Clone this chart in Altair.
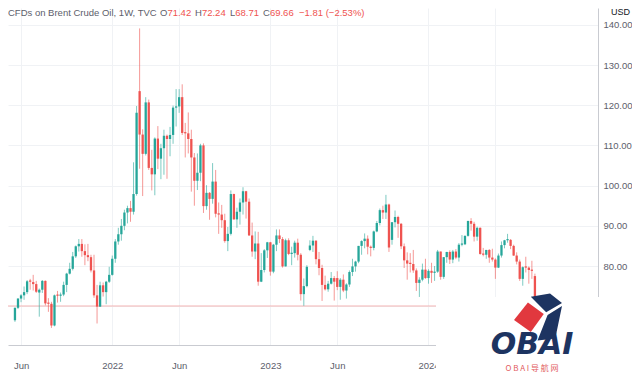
import altair as alt
import pandas as pd

# ---------------- data (weekly candles, TVC:UKOIL) ----------------
start_week = "2021-05-24"
n_weeks = 173
weeks = pd.date_range(start_week, periods=n_weeks, freq="7D").strftime("%Y-%m-%d").tolist()

opens = [
    66.5, 69.6, 71.9, 72.7, 73.5, 76.2, 76.0, 75.5, 73.4, 74.1,
    76.3, 70.7, 70.6, 65.2, 72.7, 72.6, 72.9, 75.3, 78.1, 79.3,
    82.4, 84.9, 85.5, 83.7, 82.7, 82.2, 78.9, 72.7, 69.9, 75.2,
    73.5, 76.1,
    77.8, 81.8, 86.1, 87.9, 90.0, 93.3, 94.4, 93.5, 97.9, 123.5,
    112.7, 107.9, 120.7, 104.4, 102.8, 111.7, 106.7, 109.3, 112.4, 111.6,
    112.6, 119.4, 119.7, 122.0, 113.1, 113.0, 111.6, 107.0, 101.2, 103.2,
    110.0, 94.9, 98.2, 96.7, 101.0, 93.0, 92.8, 91.4, 86.2, 88.0,
    97.9, 91.6, 93.5, 95.8, 98.6, 96.0, 87.6, 83.6, 85.6, 76.1,
    79.0, 83.9,
    85.9, 78.6, 85.3, 87.6, 86.7, 79.9, 86.4, 83.0, 83.2, 85.8,
    82.8, 73.0, 75.0, 84.0, 85.1, 86.3, 81.7, 79.5, 75.3, 74.2,
    75.6, 77.0, 77.0, 74.8, 76.6, 73.9, 75.4, 78.5, 79.9, 81.1,
    85.0, 86.2, 86.8, 84.8, 84.5, 88.6, 90.7, 93.9, 93.3, 95.3,
    86.5, 90.9, 92.2, 90.5, 84.9, 81.4, 80.6, 80.5, 78.9, 75.8,
    76.6, 79.1,
    77.0, 78.8, 78.3, 78.6, 83.6, 77.3, 82.2, 83.5, 81.6, 83.6,
    82.1, 85.3, 85.4, 87.5, 91.2, 90.5, 87.3, 89.5, 83.0, 82.8,
    84.0, 82.1, 81.6, 79.6, 82.6, 85.2, 86.4, 86.5, 85.0, 82.6,
    81.1, 76.8, 79.7, 79.6, 79.0, 77.5, 71.4,
]
highs = [
    69.7, 72.0, 73.0, 74.9, 76.5, 76.8, 77.8, 76.3, 74.4, 76.5,
    76.4, 72.0, 71.1, 72.9, 73.8, 73.4, 76.1, 78.3, 80.8, 83.5,
    85.1, 86.7, 86.7, 85.4, 85.5, 82.8, 82.8, 75.3, 76.1, 75.9,
    76.3, 79.8,
    82.6, 86.7, 89.5, 91.7, 94.0, 95.0, 96.2, 105.8, 119.8, 139.1,
    114.0, 122.0, 121.4, 108.9, 112.0, 114.8, 110.4, 113.9, 112.7, 114.6,
    119.9, 124.0, 124.0, 125.2, 115.6, 118.2, 113.9, 108.1, 108.0, 110.4,
    110.5, 100.1, 98.4, 105.6, 103.9, 95.8, 95.2, 93.0, 89.7, 98.8,
    98.0, 94.5, 96.8, 99.6, 98.7, 96.8, 90.8, 88.6, 88.5, 83.2,
    84.2, 86.0,
    86.0, 85.5, 89.1, 89.1, 87.2, 86.8, 86.9, 84.8, 86.3, 86.8,
    83.2, 76.9, 80.2, 86.4, 87.5, 86.4, 83.5, 80.3, 77.6, 76.3,
    78.5, 77.5, 78.7, 77.0, 77.9, 75.7, 78.9, 81.8, 81.3, 85.0,
    86.4, 88.1, 87.6, 85.1, 88.8, 91.2, 94.3, 95.0, 97.7, 95.5,
    90.9, 93.8, 92.5, 90.7, 85.6, 83.4, 83.2, 84.0, 79.4, 77.2,
    80.6, 81.8,
    79.2, 80.8, 80.0, 84.0, 83.6, 82.2, 83.5, 83.9, 84.0, 84.2,
    85.7, 87.7, 87.6, 91.3, 91.9, 91.0, 89.8, 89.6, 84.5, 84.0,
    84.2, 84.3, 81.9, 83.1, 86.1, 86.5, 88.0, 86.7, 85.3, 83.4,
    81.6, 79.9, 82.3, 79.9, 81.3, 78.1, 72.2,
]
lows = [
    66.1, 69.3, 71.0, 71.6, 73.0, 74.1, 73.9, 73.3, 67.4, 73.3,
    70.2, 68.6, 64.6, 65.0, 70.9, 71.1, 72.5, 73.5, 77.9, 78.9,
    82.0, 83.6, 82.3, 80.2, 81.2, 78.4, 72.1, 65.7, 69.8, 72.4,
    70.5, 75.8,
    77.6, 80.8, 85.3, 86.3, 88.9, 90.6, 91.0, 92.8, 97.5, 104.2,
    97.4, 107.5, 103.9, 98.8, 97.6, 104.1, 101.6, 102.7, 101.7, 107.3,
    110.4, 114.7, 118.1, 112.6, 107.0, 108.0, 98.5, 95.0, 98.9, 101.1,
    93.2, 94.0, 91.5, 95.5, 92.1, 88.0, 89.5, 85.8, 83.7, 87.6,
    91.5, 89.5, 90.3, 92.8, 91.8, 87.5, 82.3, 81.7, 75.1, 76.0,
    78.4, 82.0,
    77.6, 78.2, 83.7, 85.7, 79.6, 79.9, 82.7, 80.2, 82.1, 81.4,
    71.4, 70.1, 74.7, 83.7, 83.5, 80.4, 77.7, 71.3, 73.9, 73.6,
    75.4, 71.4, 74.0, 71.6, 73.5, 71.9, 74.8, 77.5, 78.6, 80.7,
    82.8, 84.4, 82.9, 82.4, 83.9, 88.4, 90.1, 91.7, 91.7, 83.5,
    85.3, 89.6, 87.0, 84.2, 79.5, 76.6, 78.4, 78.3, 73.8, 72.3,
    76.2, 76.8,
    75.6, 75.8, 76.3, 78.3, 76.6, 76.8, 80.8, 80.5, 80.7, 81.7,
    81.1, 84.9, 85.2, 87.3, 88.8, 86.1, 86.3, 82.8, 82.4, 81.8,
    80.8, 81.1, 76.8, 79.5, 82.1, 84.4, 85.8, 84.2, 82.5, 80.4,
    76.3, 75.1, 78.4, 75.6, 76.8, 71.0, 68.7,
]
closes = [
    69.6, 71.9, 72.7, 73.5, 76.2, 76.1, 75.5, 73.6, 74.1, 76.3,
    70.7, 70.6, 65.2, 72.7, 72.6, 72.9, 75.3, 78.1, 79.3, 82.4,
    84.9, 85.5, 83.7, 82.7, 82.2, 78.9, 72.7, 69.9, 75.2, 73.5,
    76.1, 77.8,
    81.8, 86.1, 87.9, 90.0, 93.3, 94.4, 93.5, 97.9, 118.1, 112.7,
    107.9, 120.7, 104.4, 102.8, 111.7, 106.7, 109.3, 112.4, 111.6, 112.6,
    119.4, 119.7, 122.0, 113.1, 113.0, 111.6, 107.0, 101.2, 103.2, 110.0,
    94.9, 98.2, 96.7, 101.0, 93.0, 92.8, 91.4, 86.2, 88.0, 97.9,
    91.6, 93.5, 95.8, 98.6, 96.0, 87.6, 83.6, 85.6, 76.1, 79.0,
    83.9, 85.9,
    78.6, 85.3, 87.6, 86.7, 79.9, 86.4, 83.0, 83.2, 85.8, 82.8,
    73.0, 75.0, 79.8, 85.1, 86.3, 81.7, 79.5, 75.3, 74.2, 75.6,
    77.0, 76.1, 74.8, 76.6, 73.9, 75.4, 78.5, 79.9, 81.1, 85.0,
    86.2, 86.8, 84.8, 84.5, 88.6, 90.7, 93.9, 93.3, 95.3, 84.6,
    90.9, 92.2, 90.5, 84.9, 81.4, 80.6, 80.5, 78.9, 75.8, 76.6,
    79.1, 77.0,
    78.8, 78.3, 78.6, 83.6, 77.3, 82.2, 83.5, 81.6, 83.6, 82.1,
    85.3, 85.4, 87.5, 91.2, 90.5, 87.3, 89.5, 83.0, 82.8, 84.0,
    82.1, 81.6, 79.6, 82.6, 85.2, 86.4, 86.5, 85.0, 82.6, 81.1,
    76.8, 79.7, 79.6, 79.0, 78.8, 71.5, 69.7,
]

tick_dates = ["2021-06-07", "2022-01-03", "2022-06-06", "2023-01-02",
              "2023-06-05", "2024-01-01", "2024-06-03"]
price_ticks = [70, 80, 90, 100, 110, 120, 130, 140]
hline_level = [70.05]

header_title = "CFDs on Brent Crude Oil, 1W, TVC"
header_pieces = [("O", "71.42"), ("H", "72.24"), ("L", "68.71"), ("C", "69.66")]
header_change = "\u22121.81 (\u22122.53%)"

# ---------------- styling ----------------
UP = "#26a69a"
DOWN = "#ef5350"
GRID = "#f0f2f5"
AXIS_LINE = "#c9cbd1"
LABEL = "#5d606b"
FONT = "Liberation Sans"


def ms(s):
    return int(pd.Timestamp(s, tz="UTC").value // 10**6)


x_domain = [ms("2021-05-19 12:00"), ms("2025-01-13 17:00")]
y_domain = [60.35, 144.18]
label_cutoff = ms("2024-03-01")   # later tick labels sit under the watermark

df = pd.DataFrame({"date": weeks, "open": opens, "high": highs,
                   "low": lows, "close": closes})
one = pd.DataFrame({"k": [0]})

x_axis = alt.Axis(
    values=[ms(d) for d in tick_dates],
    labelExpr=("datum.value > %d ? '' : (utcmonth(datum.value) == 0 ? "
               "utcFormat(datum.value, '%%Y') : utcFormat(datum.value, '%%b'))") % label_cutoff,
    grid=True, gridColor=GRID, gridWidth=1,
    domainColor=AXIS_LINE, domainWidth=1,
    ticks=False, tickSize=0,
    labelColor=LABEL, labelFont=FONT, labelFontSize=9.5, labelPadding=15,
    title=None,
)
y_axis = alt.Axis(
    orient="right", values=price_ticks, format=".2f",
    grid=True, gridColor=GRID, gridWidth=1,
    domainColor=AXIS_LINE, domainWidth=1,
    ticks=False, tickSize=0,
    labelColor=LABEL, labelFont=FONT, labelFontSize=9.5, labelPadding=5,
    title=None,
)

x_enc = alt.X("date:T", scale=alt.Scale(type="utc", domain=x_domain), axis=x_axis)
y_scale = alt.Scale(domain=y_domain)
color_enc = alt.Color("dir:N", scale=alt.Scale(domain=["up", "down"], range=[UP, DOWN]),
                      legend=None)

base = (
    alt.Chart(df)
    .transform_calculate(
        dir="datum.close >= datum.open ? 'up' : 'down'",
        btop="max(datum.open, datum.close)",
        bbot="min(datum.open, datum.close)",
    )
    .transform_calculate(btop2="datum.btop - datum.bbot < 0.3 ? datum.bbot + 0.3 : datum.btop")
)

wicks = base.mark_rule(strokeWidth=1, opacity=0.6).encode(
    x=x_enc, y=alt.Y("low:Q", scale=y_scale, axis=y_axis), y2="high:Q", color=color_enc
)
bodies = base.mark_bar(width=2.3).encode(
    x=x_enc, y=alt.Y("bbot:Q", scale=y_scale, axis=y_axis), y2="btop2:Q", color=color_enc
)

hline = alt.Chart(pd.DataFrame({"level": hline_level})).mark_rule(
    color="#f3b3b3", strokeWidth=1
).encode(y=alt.Y("level:Q", scale=y_scale, axis=y_axis))

# white watermark backdrop and USD box
logo_box = alt.Chart(one).mark_rect(color="white").encode(
    x=alt.value(428), x2=alt.value(720), y=alt.value(289), y2=alt.value(420)
)
usd_box = alt.Chart(one).mark_rect(color="white").encode(
    x=alt.value(596), x2=alt.value(720), y=alt.value(-10), y2=alt.value(14)
)


def label(text, x, y, color, size=9.5, align="left", font=FONT, weight="normal",
          style="normal", baseline="middle"):
    return alt.Chart(one).mark_text(
        align=align, baseline=baseline, font=font, fontSize=size, color=color,
        fontWeight=weight, fontStyle=style,
    ).encode(x=alt.value(x), y=alt.value(y), text=alt.value(text))


header = [label(header_title, 0, 4.5, LABEL)]
xs = [(152, 159.4), (187, 193.9), (222, 227.3), (255, 261.9)]
for (letter, num), (xl, xn) in zip(header_pieces, xs):
    header.append(label(letter, xl, 4.5, LABEL))
    header.append(label(num, xn, 4.5, DOWN))
header.append(label(header_change, 291, 4.5, DOWN))
usd = label("USD", 603, 3.5, "#131722", size=9)

# logo (watermark)
RED_FACE = "M -1 0.12 L -0.42 -0.6 L 0.24 -0.12 L -0.3 0.62 Z"
NAVY_FACES = ("M -0.3 -0.84 L 0.5 -0.98 L 1 -0.58 L 0.34 -0.2 Z "
              "M 0.4 -0.08 L 1 -0.46 L 0.72 0.9 L -0.02 0.98 Z")
cube_red = alt.Chart(one).mark_point(shape=RED_FACE, size=2304, filled=True,
                                     color="#e1383e", opacity=1).encode(
    x=alt.value(530), y=alt.value(309))
cube_navy = alt.Chart(one).mark_point(shape=NAVY_FACES, size=2304, filled=True,
                                      color="#1d3461", opacity=1).encode(
    x=alt.value(530), y=alt.value(309))
logo_text = label("OBAI", 524, 346, "#1d3461", size=30, align="center",
                  font="DejaVu Sans", weight="bold", style="italic", baseline="alphabetic")
logo_sub = label("O B A I 导 航 网", 524, 361, "#e25b60", size=8, align="center",
                 font="Noto Sans CJK SC")

chart = alt.layer(
    hline, wicks, bodies, logo_box, usd_box, usd, *header,
    cube_navy, cube_red, logo_text, logo_sub,
).properties(
    width=590, height=337,
    autosize=alt.AutoSizeParams(type="none"),
    padding={"left": 0, "top": 0, "right": 34, "bottom": 29},
    background="white",
).configure_view(stroke=None)

chart.save("out.html", embed_options={"renderer": "svg", "actions": False})
